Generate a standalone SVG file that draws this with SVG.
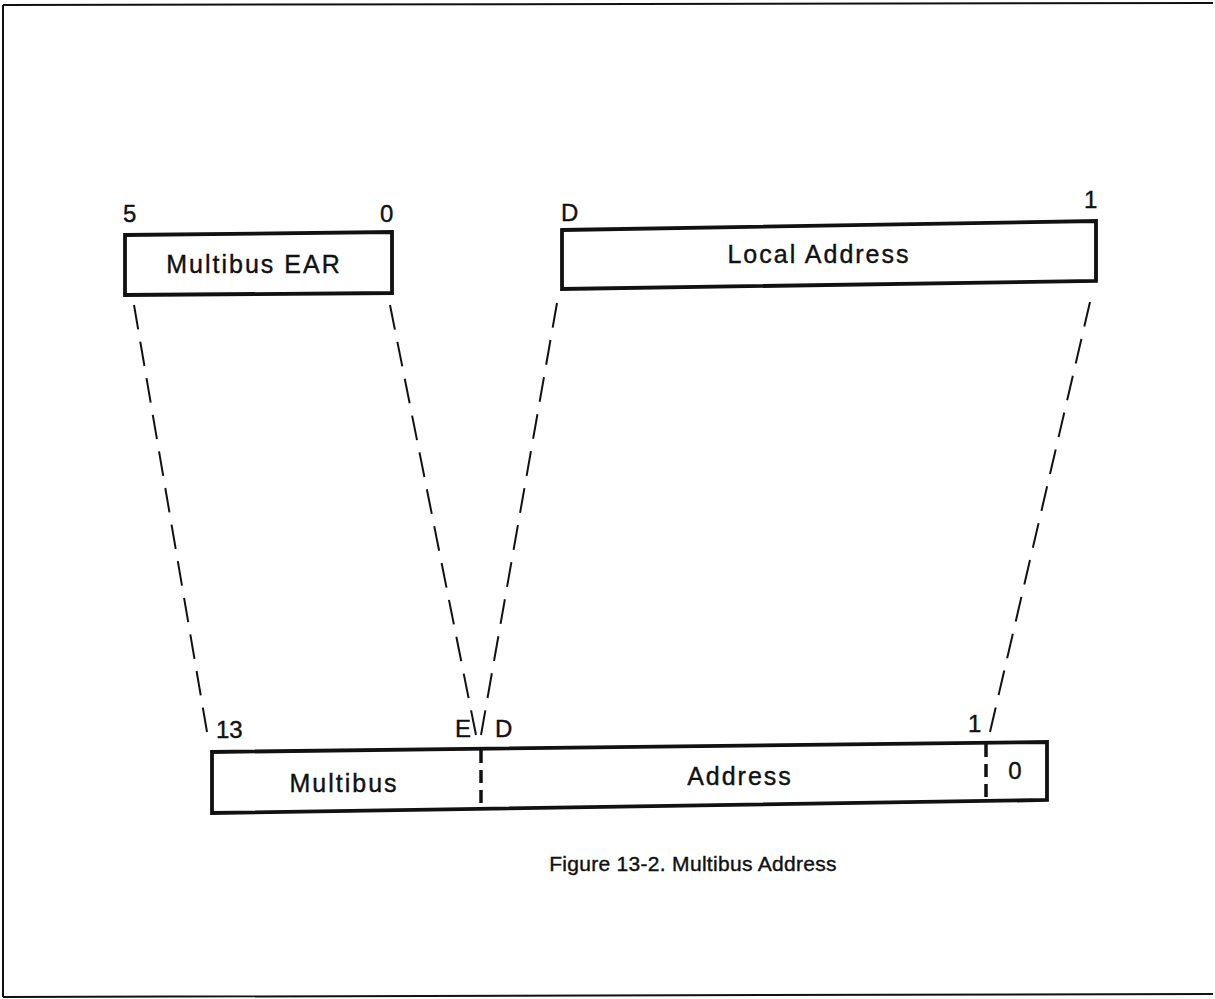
<svg xmlns="http://www.w3.org/2000/svg" width="1215" height="999" viewBox="0 0 1215 999">
<style>
text{font-family:"Liberation Sans",Arial,sans-serif;fill:#111;stroke:#111;stroke-width:0.4;}
.lbl{font-size:25px;letter-spacing:2px;}
.bit{font-size:24px;}
.cap{font-size:21px;letter-spacing:0.3px;}
.box{fill:none;stroke:#111;stroke-width:3.8;}
.dash{fill:none;stroke:#111;stroke-width:2;stroke-dasharray:24 12;}
.div{fill:none;stroke:#111;stroke-width:3.5;stroke-dasharray:13 7;}
</style>
<rect width="1215" height="999" fill="#fff"/>
<g id="frame"><path d="M3,5 L1213,3 M3,5 L3,997 M3,997 L1213,994" fill="none" stroke="#111" stroke-width="2"/></g>
<g id="ear">
<polygon class="box" points="125,235 392,232 392,293 125,295"/>
<text class="lbl" x="254" y="273" text-anchor="middle">Multibus EAR</text>
<text class="bit" x="123" y="222">5</text>
<text class="bit" x="380" y="222">0</text>
</g>
<g id="local">
<polygon class="box" points="562,230 1096,221 1096,281 562,289"/>
<text class="lbl" x="819" y="263" text-anchor="middle">Local Address</text>
<text class="bit" x="561" y="221">D</text>
<text class="bit" x="1084" y="208">1</text>
</g>
<g id="bus">
<polygon class="box" points="212,752 1047,742 1047,800 212,813"/>
<path class="div" d="M481,750 L481,809 M986,744 L986,801"/>
<text class="lbl" x="344" y="792" text-anchor="middle">Multibus</text>
<text class="lbl" x="740" y="785" text-anchor="middle">Address</text>
<text class="bit" x="1015" y="779" text-anchor="middle">0</text>
<text class="bit" x="216" y="738">13</text>
<text class="bit" x="455" y="737">E</text>
<text class="bit" x="495" y="737">D</text>
<text class="bit" x="968" y="732">1</text>
</g>
<g id="connectors">
<line class="dash" pathLength="420" x1="134" y1="305" x2="207" y2="732"/>
<line class="dash" pathLength="420" x1="390" y1="305" x2="476" y2="735"/>
<line class="dash" pathLength="420" x1="557" y1="303" x2="481" y2="735"/>
<line class="dash" pathLength="420" x1="1090" y1="302" x2="990" y2="732"/>
</g>
<text class="cap" x="693" y="871" text-anchor="middle">Figure 13-2. Multibus Address</text>
</svg>
